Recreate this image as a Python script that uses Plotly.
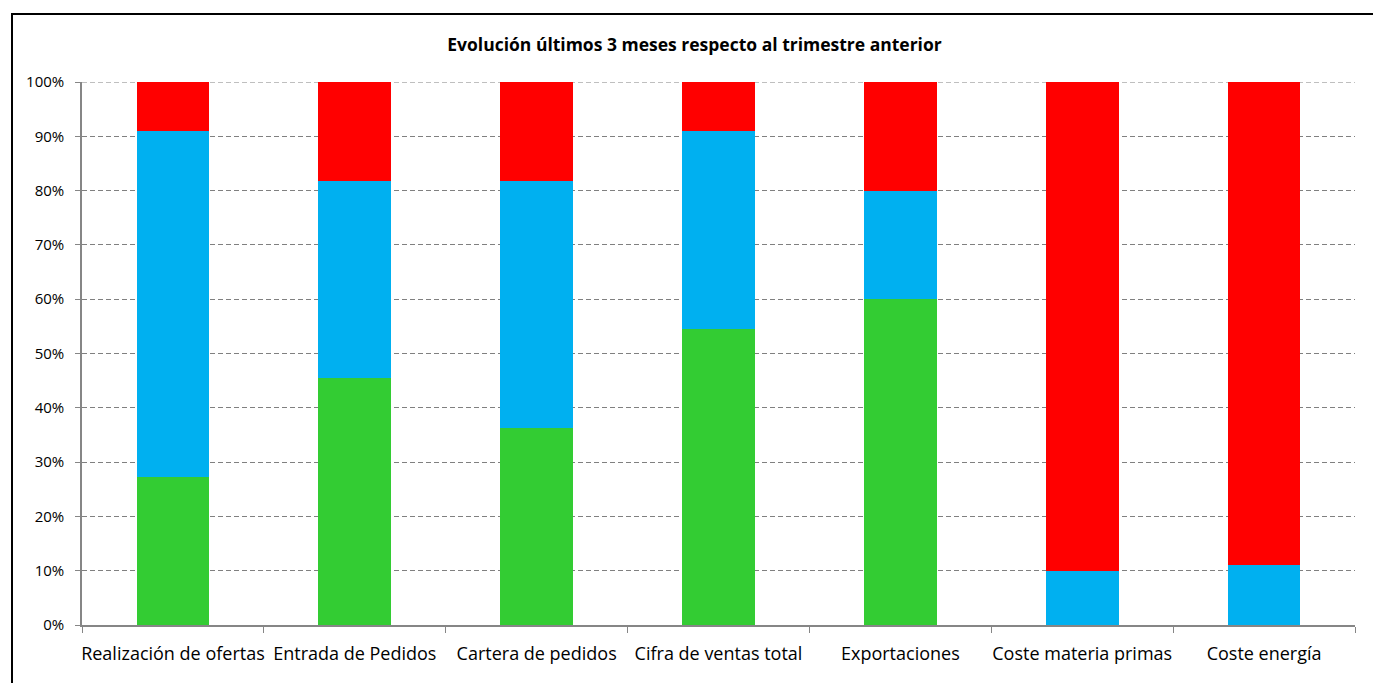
import plotly.graph_objects as go

categories = ["Realización de ofertas", "Entrada de Pedidos", "Cartera de pedidos",
              "Cifra de ventas total", "Exportaciones", "Coste materia primas", "Coste energía"]
green_vals = [27.27, 45.45, 36.36, 54.55, 60.0, 0.0, 0.0]
blue_vals = [63.64, 36.36, 45.45, 36.36, 20.0, 10.0, 11.11]
red_vals = [9.09, 18.18, 18.18, 9.09, 20.0, 90.0, 88.89]
series_names = ["Aumento", "Estable", "Disminución"]
tick_vals = [0, 10, 20, 30, 40, 50, 60, 70, 80, 90, 100]
tick_text = [f"{v}%" for v in tick_vals]

colors = ["#33CC33", "#00B0F0", "#FF0000"]

fig = go.Figure()
for name, vals, col in zip(series_names, [green_vals, blue_vals, red_vals], colors):
    fig.add_trace(go.Bar(x=categories, y=vals, name=name, marker_color=col,
                         marker_line_width=0))

font_family = "Open Sans, Noto Sans, Liberation Sans, sans-serif"
W, H = 1373, 675  # page has an 8px body margin
ML, MR, MT, MB = 74, 26, 74, 58
fig.update_layout(
    barmode="stack",
    bargap=0.6,
    width=W, height=H,
    margin=dict(l=ML, r=MR, t=MT, b=MB),
    paper_bgcolor="white", plot_bgcolor="white",
    showlegend=False,
    title=dict(text="<b>Evolución últimos 3 meses respecto al trimestre anterior</b>",
               x=0.5, xanchor="center", y=1 - 37 / H, yanchor="middle",
               font=dict(family=font_family, size=17.5, color="black")),
    font=dict(family=font_family, color="black"),
)
fig.update_yaxes(range=[0, 100], tickvals=tick_vals, ticktext=tick_text,
                 showgrid=True, gridcolor="#808080", griddash="5px,3px", gridwidth=1,
                 showline=True, linecolor="#868686", linewidth=1.5,
                 ticks="outside", ticklen=5, tickcolor="#868686",
                 ticklabelstandoff=8,
                 tickfont=dict(size=15, family=font_family, color="black"),
                 zeroline=False)
fig.update_xaxes(showline=True, linecolor="#868686", linewidth=1.5,
                 ticks="outside", ticklen=6, tickcolor="#868686", tickson="boundaries",
                 ticklabelstandoff=12,
                 tickfont=dict(size=18, family=font_family, color="black"),
                 showgrid=False, tickangle=0)

# top gridline at 100%
fig.add_shape(type="line", xref="paper", yref="y", x0=0, x1=1, y0=100, y1=100,
              line=dict(color="#808080", width=1, dash="5px,3px"), layer="below")

# outer chart frame
pw = W - ML - MR
ph = H - MT - MB
fig.add_shape(type="rect", xref="paper", yref="paper",
              x0=(4 - ML) / pw, x1=1.2, y0=-0.3, y1=(H - MB - 6) / ph,
              line=dict(color="black", width=2), fillcolor="rgba(0,0,0,0)", layer="above")

fig.write_html("out.html")
